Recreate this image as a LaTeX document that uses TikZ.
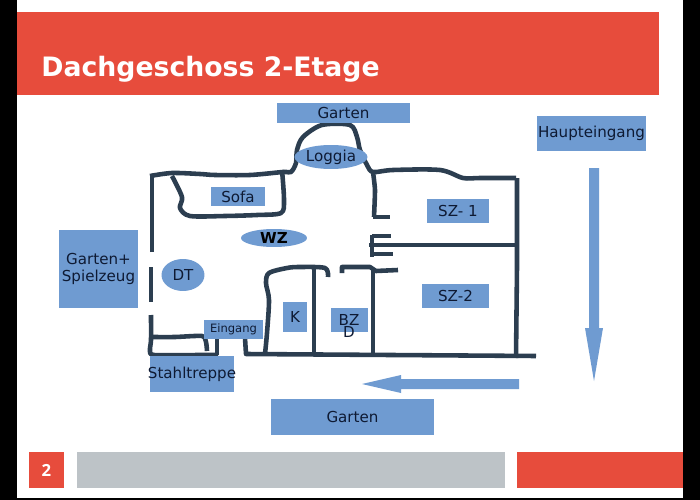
\documentclass[tikz,border=0pt]{standalone}
\usepackage{fontspec}
\usetikzlibrary{shapes.geometric}
\setmainfont{DejaVu Sans}
\newfontfamily\numfont{Open Sans}
\definecolor{slidered}{HTML}{E74C3C}
\definecolor{footgray}{HTML}{BDC3C7}
\definecolor{planblue}{HTML}{6F9BD1}
\definecolor{walldark}{HTML}{2C3E50}
\definecolor{labeldark}{HTML}{0E1A33}
\begin{document}
\begin{tikzpicture}[
    x=0.02cm, y=-0.02cm,
    box/.style={rectangle, fill=planblue, inner sep=0pt, text=labeldark, font=\fontsize{8.6}{10.2}\selectfont, align=center},
    oval/.style={ellipse, fill=planblue, inner sep=0pt, text=labeldark, font=\fontsize{8.6}{10.2}\selectfont},
    wall/.style={draw=walldark, line width=2.6pt, line cap=butt, line join=round},
    flow/.style={fill=planblue},
    band/.style={rectangle, inner sep=0pt, anchor=north west},
  ]
    \useasboundingbox (0,0) rectangle (700,500);
    \fill[black] (0,0) rectangle (700,500);
    \fill[white] (17,0) rectangle (683,498);

    % Title bar
    \node[band, fill=slidered, minimum width=12.84cm, minimum height=1.66cm] (titlebar) at (17,12) {};
    \node[anchor=base west, inner sep=0pt, text=white, font=\fontsize{15.2}{18}\selectfont\bfseries] (title) at (41,77) {Dachgeschoss 2-Etage};

    % Footer
    \node[band, fill=slidered, minimum width=0.7cm, minimum height=0.72cm, text=white, font=\numfont\fontsize{9.5}{11}\selectfont\bfseries, anchor=center] (pagenum) at (46.5,470) {2};
    \node[band, fill=footgray, minimum width=8.56cm, minimum height=0.72cm] (footmid) at (77,452) {};
    \node[band, fill=slidered, minimum width=3.32cm, minimum height=0.72cm] (footright) at (517,452) {};

    % Outer walls
    \draw[wall] (152,252) -- (152,176);
    \draw[wall] plot[smooth, tension=0.5] coordinates {(150,176) (172,173) (200,174) (215,175) (250,175) (283,172) (291,172) (296,163) (297,150) (303,137) (322,125) (350,125) (357,137) (360,150) (367,165) (373,172) (393,170) (440,170) (463,178) (480,178) (516,178)};
    \draw[wall] (517,178) -- (517,267) -- (516,358);
    \draw[wall] (151,267) -- (151,302);
    \draw[wall] plot[smooth, tension=0.4] coordinates {(151,315) (151,340) (150,350) (154,355) (200,355) (218,355)};
    \draw[wall] (217,355) -- (217,338);
    \draw[wall] (245,338) -- (246,354) -- (536,356);

    % Sofa niche
    \draw[wall] plot[smooth, tension=0.5] coordinates {(172,176) (182,197) (180,208) (190,216) (225,216) (257,215) (281,213) (284,200) (282,170)};

    % Stairs
    \draw[wall] plot[smooth, tension=0.4] coordinates {(151,337) (175,337) (202,336) (206,342) (207,351)};

    % Inner walls
    \draw[wall] plot[smooth, tension=0.3] coordinates {(373,172) (375,190) (374,217)};
    \draw[wall] (373,217) -- (390,217);
    \draw[wall] (372,235) -- (372,257);
    \draw[wall] (372,236) -- (391,236);
    \draw[wall] (369,245) -- (517,245);
    \draw[wall] (372,254) -- (393,254);
    \draw[wall] plot[smooth, tension=0.5] coordinates {(328,277) (325,268) (300,267) (287,268) (269,273) (266,283) (269,300) (267,333) (265,354)};
    \draw[wall] (314,268) -- (314,354);
    \draw[wall] (342,273) -- (342,267) -- (370,267) -- (376,271) -- (398,270);
    \draw[wall] (373,268) -- (373,354);

    % Arrows
    \fill[flow] (589,168) -- (599,168) -- (599,328) -- (603,328) -- (594,381) -- (585,328) -- (589,328) -- cycle;
    \fill[flow] (519,379) -- (519,389) -- (401,389) -- (401,393) -- (362,384) -- (401,375) -- (401,379) -- cycle;

    % Labels
    \node[box, minimum width=2.66cm, minimum height=0.4cm] (gartentop) at (343.5,113) {Garten};
    \node[box, minimum width=2.18cm, minimum height=0.7cm] (haupteingang) at (591.5,133.5) {Haupteingang};
    \node[box, minimum width=1.08cm, minimum height=0.38cm] (sofa) at (238,196.5) {Sofa};
    \node[box, minimum width=1.24cm, minimum height=0.48cm] (sz1) at (458,211) {SZ- 1};
    \node[box, minimum width=1.34cm, minimum height=0.48cm] (sz2) at (455.5,296) {SZ-2};
    \node[box, minimum width=0.48cm, minimum height=0.6cm] (kueche) at (295,317) {K};
    \node[box, minimum width=0.74cm, minimum height=0.48cm] (bad) at (349.5,320) {};
    \node[inner sep=0pt, align=center, text=labeldark, font=\fontsize{8.6}{6.8}\selectfont] (badlabel) at (349,326) {BZ\\D};
    \node[box, minimum width=1.58cm, minimum height=1.56cm] (spielzeug) at (98.5,269) {Garten+\\Spielzeug};
    \node[box, minimum width=1.18cm, minimum height=0.38cm, font=\fontsize{6.55}{8}\selectfont] (eingang) at (233.5,329.5) {Eingang};
    \node[box, minimum width=1.68cm, minimum height=0.72cm] (stahl) at (192,374) {\makebox[0pt]{Stahltreppe}};
    \node[box, minimum width=3.26cm, minimum height=0.72cm] (gartenbottom) at (352.5,417) {Garten};

    % Ovals
    \node[oval, minimum width=1.46cm, minimum height=0.48cm] (loggia) at (331,157) {Loggia};
    \node[oval, minimum width=1.32cm, minimum height=0.36cm, font=\fontsize{8.6}{10.2}\selectfont\bfseries, text=black] (wz) at (274,238) {WZ};
    \node[oval, minimum width=0.86cm, minimum height=0.64cm] (dt) at (183,275) {DT};
  \end{tikzpicture}
\end{document}
